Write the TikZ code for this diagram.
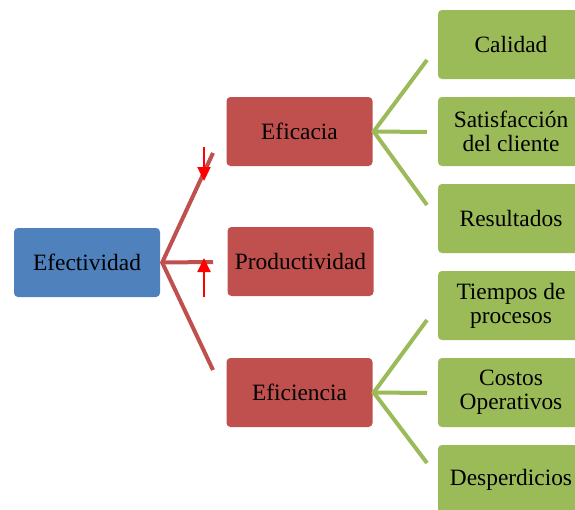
\documentclass[tikz,border=0pt]{standalone}
\usepackage{fontspec}
\setmainfont{Liberation Serif}
\usepackage{tikz}
\usetikzlibrary{calc}
\usetikzlibrary{positioning}
\usetikzlibrary{arrows.meta}

\definecolor{boxblue}{HTML}{4F81BD}
\definecolor{boxred}{HTML}{C0504D}
\definecolor{boxgreen}{HTML}{9BBB59}

\begin{document}
\begin{tikzpicture}[x=1pt, y=-1pt,
		box/.style={rectangle, rounded corners=4pt, minimum width=146pt, minimum height=69pt, inner sep=0pt, align=center, font=\fontsize{23.4pt}{24pt}\selectfont},
		redline/.style={line width=4pt, draw=boxred},
		greenline/.style={line width=4pt, draw=boxgreen},
		mark arrow/.style={line width=2pt, red, -{Triangle[length=14pt, width=13pt]}}]
				\clip (0,0) rectangle (575,509);
				\node[box, fill=boxblue] (ef) at (87,262.5) {Efectividad};
				\node[box, fill=boxred] (eca) at (299.5,131.5) {Eficacia};
				\node[box, fill=boxred] (pro) at (300.5,261.5) {Productividad};
				\node[box, fill=boxred] (eci) at (299.5,392.5) {Eficiencia};
				\node[box, fill=boxgreen] (cal) at (511,44.5) {Calidad};
				\node[box, fill=boxgreen] (sat) at (511,131.5) {Satisfacción\\del cliente};
				\node[box, fill=boxgreen] (res) at (511,218.5) {Resultados};
				\node[box, fill=boxgreen] (tie) at (511,305.5) {Tiempos de\\procesos};
				\node[box, fill=boxgreen] (cos) at (511,392.5) {Costos\\Operativos};
				\node[box, fill=boxgreen] (des) at (511,479.5) {Desperdicios};
				
				% red branch
				\coordinate (h0) at ($(ef.east)+(2,0)$);
				\coordinate (r1) at (213,153);
				\coordinate (r2) at (213,262);
				\coordinate (r3) at (213,370);
				\draw[redline]  (r1) -- (h0) -- (r3);
				\draw[redline]  (h0) -- (r2);
				
				% green branches
				\coordinate (h1) at ($(eca.east)+(1,0)$);
				\coordinate (g1) at (427,60);
				\coordinate (g2) at (427,132);
				\coordinate (g3) at (427,205);
				\draw[greenline]  (g1) -- (h1) -- (g3);
				\draw[greenline]  (h1) -- (g2);
				\coordinate (h2) at ($(eci.east)+(1,0)$);
				\coordinate (g4) at (427,320);
				\coordinate (g5) at (427,393);
				\coordinate (g6) at (427,463);
				\draw[greenline]  (g4) -- (h2) -- (g6);
				\draw[greenline]  (h2) -- (g5);
				
				% red marks
				\coordinate (a1) at (204,147);
				\coordinate (a2) at (204,181);
				\coordinate (a3) at (204,297);
				\coordinate (a4) at (204,258);
				\draw[mark arrow]  (a1) -- (a2);
				\draw[mark arrow]  (a3) -- (a4);
			\end{tikzpicture}
\end{document}
